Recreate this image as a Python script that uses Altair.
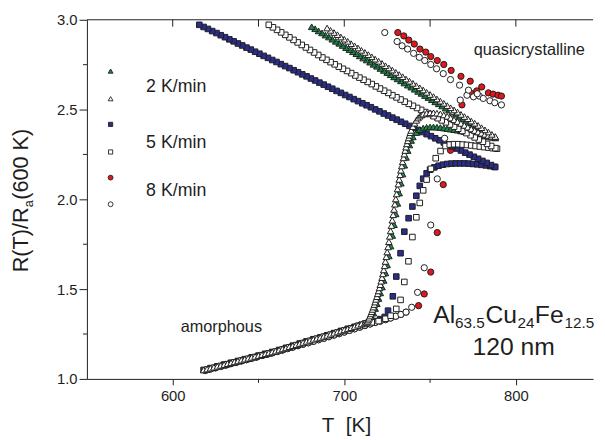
import altair as alt
import pandas as pd

FONT = "Liberation Sans"
INK = "#1e1e1e"
GREEN = "#1b8c47"
BLUE = "#2a2d8c"
RED = "#e3161b"

# ---------------- data (T in K, R(T)/Ra(600 K)) ----------------
# 2 K/min, open triangles
tri_open_amorph = [(618, 1.050), (620, 1.055), (622, 1.060), (624, 1.065), (626, 1.070), (628, 1.075),
                   (630, 1.080), (632, 1.085), (634, 1.090), (636, 1.095), (638, 1.100), (640, 1.105),
                   (642, 1.110), (644, 1.115), (646, 1.120), (648, 1.125), (650, 1.130), (652, 1.135),
                   (654, 1.140), (656, 1.145), (658, 1.150), (660, 1.155), (662, 1.161), (664, 1.167),
                   (666, 1.173), (668, 1.179), (670, 1.185), (672, 1.191), (674, 1.197), (676, 1.203),
                   (678, 1.209), (680, 1.215), (682, 1.221), (684, 1.226), (686, 1.231), (688, 1.237),
                   (690, 1.243), (692, 1.249), (694, 1.255), (696, 1.261), (698, 1.267), (700, 1.273),
                   (702, 1.279), (704, 1.285), (706, 1.292), (708, 1.299), (710, 1.306), (712, 1.312)]
tri_open_rise = [(713.0, 1.315), (713.5, 1.320), (714.0, 1.328), (714.5, 1.338), (715.0, 1.350), (715.5, 1.362),
                 (716.0, 1.374), (716.5, 1.387), (717.0, 1.400), (717.5, 1.414), (718.0, 1.428), (718.5, 1.443),
                 (719.0, 1.458), (719.5, 1.474), (720.0, 1.490), (720.5, 1.507), (721.0, 1.525), (721.5, 1.544),
                 (722.0, 1.564), (722.5, 1.585), (723.0, 1.607), (723.5, 1.630), (724.0, 1.654), (724.5, 1.680),
                 (725.0, 1.707), (725.5, 1.735), (726.0, 1.764), (726.5, 1.794), (727.0, 1.824), (727.5, 1.854),
                 (728.0, 1.884), (728.5, 1.914), (729.0, 1.944), (729.5, 1.973), (730.0, 2.002), (730.5, 2.030),
                 (731.0, 2.058), (731.5, 2.085), (732.0, 2.111), (732.5, 2.137), (733.0, 2.162), (733.5, 2.186),
                 (734.0, 2.209), (734.5, 2.231), (735.0, 2.252), (735.5, 2.272), (736.0, 2.291), (736.5, 2.309),
                 (737.0, 2.326), (737.5, 2.342), (738.0, 2.357), (738.5, 2.371), (739.0, 2.384), (740.0, 2.405),
                 (741.0, 2.424), (742.0, 2.440), (743.0, 2.453), (744.0, 2.463), (745.0, 2.470), (746.0, 2.475),
                 (748.0, 2.480), (750.0, 2.482), (752.0, 2.482), (754.0, 2.480), (756.0, 2.476), (758.0, 2.470),
                 (760.0, 2.462), (762.0, 2.453), (764.0, 2.443), (766.0, 2.433), (768.0, 2.423), (770.0, 2.412),
                 (772.0, 2.402), (774.0, 2.392), (776.0, 2.383), (778.0, 2.375), (780.0, 2.368), (782.0, 2.362),
                 (784.0, 2.356), (786.0, 2.351), (788.0, 2.347)]
tri_open_cool = [(788, 2.350), (786, 2.362), (784, 2.375), (782, 2.387), (780, 2.399), (778, 2.412),
                 (776, 2.424), (774, 2.436), (772, 2.449), (770, 2.461), (768, 2.473), (766, 2.486),
                 (764, 2.498), (762, 2.510), (760, 2.522), (758, 2.535), (756, 2.547), (754, 2.559),
                 (752, 2.572), (750, 2.584), (748, 2.596), (746, 2.609), (744, 2.621), (742, 2.633),
                 (740, 2.646), (738, 2.658), (736, 2.670), (734, 2.683), (732, 2.695), (730, 2.707),
                 (728, 2.720), (726, 2.732), (724, 2.744), (722, 2.757), (720, 2.769), (718, 2.781),
                 (716, 2.794), (714, 2.806), (712, 2.818), (710, 2.830), (708, 2.843), (706, 2.855),
                 (704, 2.867), (702, 2.880), (700, 2.892), (698, 2.904), (696, 2.917), (694, 2.929),
                 (692, 2.941), (690, 2.954)]

# 2 K/min, filled green triangles
tri_fill_amorph = [(619, 1.052), (621, 1.057), (623, 1.062), (625, 1.067), (627, 1.072), (629, 1.077),
                   (631, 1.082), (633, 1.087), (635, 1.092), (637, 1.097), (639, 1.102), (641, 1.107),
                   (643, 1.112), (645, 1.117), (647, 1.122), (649, 1.127), (651, 1.132), (653, 1.137),
                   (655, 1.142), (657, 1.147), (659, 1.152), (661, 1.158), (663, 1.164), (665, 1.170),
                   (667, 1.176), (669, 1.182), (671, 1.188), (673, 1.194), (675, 1.200), (677, 1.206),
                   (679, 1.212), (681, 1.218), (683, 1.224), (685, 1.230), (687, 1.236), (689, 1.242),
                   (691, 1.248), (693, 1.254), (695, 1.260), (697, 1.266), (699, 1.272), (701, 1.278),
                   (703, 1.284), (705, 1.290), (707, 1.297), (709, 1.304), (711, 1.311), (713, 1.318)]
tri_fill_rise = [(715, 1.325), (716, 1.345), (717, 1.367), (718, 1.392), (719, 1.419), (720, 1.448),
                 (721, 1.479), (722, 1.512), (723, 1.549), (724, 1.590), (725, 1.635), (726, 1.685),
                 (727, 1.740), (728, 1.799), (729, 1.859), (730, 1.919), (731, 1.978), (732, 2.035),
                 (733, 2.090), (734, 2.141), (735, 2.190), (736, 2.234), (737, 2.272), (738, 2.303),
                 (739, 2.328), (740, 2.348), (742, 2.372), (744, 2.388), (746, 2.397), (748, 2.401),
                 (750, 2.403), (752, 2.403), (754, 2.402), (756, 2.400), (758, 2.397), (760, 2.394),
                 (762, 2.391), (764, 2.388), (766, 2.385), (768, 2.381), (770, 2.378), (772, 2.374),
                 (774, 2.370), (776, 2.366), (778, 2.362), (780, 2.358), (782, 2.354), (784, 2.350),
                 (786, 2.346), (788, 2.342)]
tri_fill_cool = [(787, 2.346), (785, 2.357), (783, 2.369), (781, 2.381), (779, 2.392), (777, 2.404),
                 (775, 2.416), (773, 2.427), (771, 2.439), (769, 2.450), (767, 2.462), (765, 2.474),
                 (763, 2.485), (761, 2.497), (759, 2.508), (757, 2.520), (755, 2.532), (753, 2.543),
                 (751, 2.555), (749, 2.567), (747, 2.578), (745, 2.590), (743, 2.601), (741, 2.613),
                 (739, 2.625), (737, 2.636), (735, 2.648), (733, 2.660), (731, 2.671), (729, 2.682),
                 (727, 2.694), (725, 2.706), (723, 2.718), (721, 2.729), (719, 2.741), (717, 2.752),
                 (715, 2.764), (713, 2.776), (711, 2.787), (709, 2.799), (707, 2.811), (705, 2.822),
                 (703, 2.834), (701, 2.845), (699, 2.857), (697, 2.869), (695, 2.880), (693, 2.892),
                 (691, 2.904), (689, 2.915), (687, 2.927), (685, 2.938), (683, 2.950), (681, 2.961)]

# 5 K/min, filled blue squares
sq_fill_heat = [(618, 1.050), (622, 1.060), (626, 1.070), (630, 1.080), (634, 1.090), (638, 1.100),
                (642, 1.110), (646, 1.120), (650, 1.130), (654, 1.140), (658, 1.150), (662, 1.161),
                (666, 1.173), (670, 1.185), (674, 1.197), (678, 1.209), (682, 1.221), (686, 1.231),
                (690, 1.243), (694, 1.255), (698, 1.267), (702, 1.279), (706, 1.290), (710, 1.300),
                (714, 1.312), (718, 1.322), (721, 1.333), (723.6, 1.345), (725.5, 1.380), (728.3, 1.460),
                (730.3, 1.570), (732.8, 1.700), (735.0, 1.820), (737.5, 1.895), (739.7, 1.960),
                (742.0, 2.020), (744.0, 2.075), (746.0, 2.115), (748.0, 2.145), (750.0, 2.165),
                (752.5, 2.178), (755.0, 2.187), (757.5, 2.193), (760.0, 2.197), (762.5, 2.199),
                (765.0, 2.200), (767.5, 2.200), (770.0, 2.200), (772.5, 2.199), (775.0, 2.197),
                (777.5, 2.195), (780.0, 2.192), (782.5, 2.189), (785.0, 2.185), (787.5, 2.181)]
sq_fill_cool = [(788, 2.180), (785.5, 2.191), (783, 2.203), (780.5, 2.214), (778, 2.226), (775.5, 2.237),
                (773, 2.249), (770.5, 2.260), (768, 2.272), (765.5, 2.283), (763, 2.295), (760.5, 2.306),
                (758, 2.317), (755.5, 2.329), (753, 2.340), (750.5, 2.352), (748, 2.363), (745.5, 2.375),
                (743, 2.386), (740.5, 2.398), (738, 2.409), (735.5, 2.421), (733, 2.432), (730.5, 2.444),
                (728, 2.455), (725.5, 2.467), (723, 2.478), (720.5, 2.490), (718, 2.501), (715.5, 2.513),
                (713, 2.524), (710.5, 2.535), (708, 2.547), (705.5, 2.558), (703, 2.570), (700.5, 2.581),
                (698, 2.593), (695.5, 2.604), (693, 2.616), (690.5, 2.627), (688, 2.639), (685.5, 2.650),
                (683, 2.662), (680.5, 2.673), (678, 2.685), (675.5, 2.696), (673, 2.708), (670.5, 2.719),
                (668, 2.731), (665.5, 2.742), (663, 2.753), (660.5, 2.765), (658, 2.776), (655.5, 2.788),
                (653, 2.799), (650.5, 2.811), (648, 2.822), (645.5, 2.834), (643, 2.845), (640.5, 2.857),
                (638, 2.868), (635.5, 2.880), (633, 2.891), (630.5, 2.903), (628, 2.914), (625.5, 2.926),
                (623, 2.937), (620.5, 2.949), (618, 2.960), (615.5, 2.972)]

# 5 K/min, open squares
sq_open_heat = [(620, 1.052), (624, 1.062), (628, 1.072), (632, 1.082), (636, 1.092), (640, 1.102),
                (644, 1.112), (648, 1.122), (652, 1.132), (656, 1.142), (660, 1.152), (664, 1.164),
                (668, 1.176), (672, 1.188), (676, 1.200), (680, 1.212), (684, 1.224), (688, 1.235),
                (692, 1.246), (696, 1.258), (700, 1.270), (704, 1.282), (708, 1.295), (712, 1.306),
                (716, 1.315), (720, 1.322), (724, 1.335), (727, 1.352), (730.3, 1.390), (732.8, 1.440),
                (735.0, 1.540), (737.4, 1.655), (739.7, 1.790), (742.0, 1.900), (744.0, 1.980),
                (746.0, 2.050), (748.0, 2.110), (750.5, 2.170), (753.3, 2.229), (756.1, 2.269),
                (759.0, 2.297), (761.5, 2.305), (764.0, 2.307), (766.5, 2.307), (769.0, 2.305),
                (771.5, 2.303), (774.0, 2.300), (776.5, 2.297), (779.0, 2.294), (781.5, 2.291),
                (784.0, 2.288), (786.5, 2.285), (789.0, 2.282)]
sq_open_cool = [(788, 2.285), (785.6, 2.297), (783.2, 2.309), (780.8, 2.321), (778.4, 2.333), (776, 2.345),
                (773.6, 2.357), (771.2, 2.369), (768.8, 2.381), (766.4, 2.393), (764, 2.405), (761.6, 2.417),
                (759.2, 2.429), (756.8, 2.440), (754.4, 2.452), (752, 2.463), (749.6, 2.475), (747.2, 2.486),
                (744.8, 2.498), (742.4, 2.509), (740, 2.521), (737.6, 2.532), (735.2, 2.544), (732.8, 2.556),
                (730.4, 2.568), (728, 2.580), (725.6, 2.593), (723.2, 2.605), (720.8, 2.617), (718.4, 2.629),
                (716, 2.642), (713.6, 2.654), (711.2, 2.666), (708.8, 2.678), (706.4, 2.690), (704, 2.703),
                (701.6, 2.715), (699.2, 2.727), (696.8, 2.739), (694.4, 2.752), (692, 2.764), (689.6, 2.777),
                (687.2, 2.790), (684.8, 2.804), (682.4, 2.818), (680, 2.832), (677.6, 2.846), (675.2, 2.860),
                (672.8, 2.874), (670.4, 2.888), (668, 2.902), (665.6, 2.916), (663.2, 2.930), (660.8, 2.944),
                (658.4, 2.958), (656, 2.972)]

# 8 K/min, open circles
circ_open_heat = [(619, 1.047), (622, 1.055), (625, 1.062), (628, 1.070), (631, 1.077), (634, 1.085),
                  (637, 1.092), (640, 1.100), (643, 1.107), (646, 1.115), (649, 1.122), (652, 1.130),
                  (655, 1.137), (658, 1.145), (661, 1.153), (664, 1.161), (667, 1.169), (670, 1.177),
                  (673, 1.185), (676, 1.193), (679, 1.201), (682, 1.209), (685, 1.218), (688, 1.226),
                  (691, 1.235), (694, 1.244), (697, 1.252), (700, 1.261), (703, 1.270), (706, 1.279),
                  (709, 1.288), (712, 1.297), (715, 1.306), (718, 1.314), (721, 1.322), (724, 1.330),
                  (727, 1.339), (730, 1.349), (733, 1.359), (736, 1.372), (739.3, 1.399), (742.7, 1.482),
                  (746.6, 1.619), (750.4, 1.857), (754.2, 2.114), (758.5, 2.340), (763.0, 2.490),
                  (767.6, 2.553), (771.5, 2.580), (775.3, 2.571), (778.7, 2.575), (781.0, 2.562),
                  (784.9, 2.549), (787.7, 2.538), (791.6, 2.526)]
circ_open_cool = [(777.5, 2.588), (772.4, 2.608), (767.2, 2.636), (761.9, 2.667), (757.7, 2.700),
                  (753.8, 2.727), (750.4, 2.751), (746.9, 2.773), (743.7, 2.791), (740.4, 2.813),
                  (736.9, 2.837), (733.7, 2.855), (730.8, 2.879), (723.6, 2.929)]

# 8 K/min, filled red circles
circ_fill_heat = [(619, 1.047), (622, 1.055), (625, 1.062), (628, 1.070), (631, 1.077), (634, 1.085),
                  (637, 1.092), (640, 1.100), (643, 1.107), (646, 1.115), (649, 1.122), (652, 1.130),
                  (655, 1.137), (658, 1.145), (661, 1.153), (664, 1.161), (667, 1.169), (670, 1.177),
                  (673, 1.185), (676, 1.193), (679, 1.201), (682, 1.209), (685, 1.218), (688, 1.226),
                  (691, 1.235), (694, 1.244), (697, 1.252), (700, 1.261), (703, 1.270), (706, 1.279),
                  (709, 1.288), (712, 1.297), (715, 1.306), (718, 1.314), (721, 1.322), (724, 1.330),
                  (727, 1.339), (730, 1.349), (733, 1.359), (736, 1.372), (743.3, 1.408), (746.6, 1.473),
                  (750.4, 1.595), (754.2, 1.815), (757.7, 2.082), (761.9, 2.273), (768.6, 2.526),
                  (774.0, 2.590), (777.2, 2.604), (784.0, 2.593), (786.7, 2.586), (789.6, 2.580),
                  (791.6, 2.575)]
circ_fill_cool = [(780.1, 2.626), (773.4, 2.658), (768.0, 2.685), (762.3, 2.718), (758.0, 2.751),
                  (754.2, 2.773), (750.4, 2.795), (747.5, 2.820), (744.1, 2.837), (740.8, 2.865),
                  (737.6, 2.887), (734.7, 2.910), (731.2, 2.929)]

x_major = [600, 700, 800]
x_minor = [650, 750]
x_top = [600, 650, 700, 750, 800]
y_major = [1.0, 1.5, 2.0, 2.5, 3.0]
y_minor = [1.25, 1.75, 2.25, 2.75]

legend_rates = ["2 K/min", "5 K/min", "8 K/min"]

W, H = 513, 364


def frame(*segments):
    rows = [p for seg in segments for p in seg]
    return pd.DataFrame(rows, columns=["T", "R"])


X = alt.X("T:Q", scale=alt.Scale(domain=[550, 845], nice=False, zero=False),
          axis=alt.Axis(values=x_major, format="d", title=None, grid=False, tickSize=6, labelPadding=4,
                        labelFontSize=15, labelFont=FONT, labelColor=INK, domainColor=INK,
                        tickColor=INK, domainWidth=1, tickWidth=1, labelFontWeight="normal"))
Y = alt.Y("R:Q", scale=alt.Scale(domain=[1.0, 3.0], nice=False, zero=False),
          axis=alt.Axis(values=y_major, format=".1f", title=None, grid=False, tickSize=8, labelPadding=2,
                        labelFontSize=15, labelFont=FONT, labelColor=INK, domainColor=INK,
                        tickColor=INK, domainWidth=1, tickWidth=1))


def pts(data, shape, size, fill, stroke=INK, sw=1.0):
    return alt.Chart(data).mark_point(
        shape=shape, size=size, filled=True, fill=fill, stroke=stroke, strokeWidth=sw,
        opacity=1, fillOpacity=1, strokeOpacity=1
    ).encode(x=X, y=Y)


one = pd.DataFrame({"k": [0]})


def txt(s, x, y, size, align="left", angle=0, baseline="alphabetic"):
    kw = dict(font=FONT, fontSize=size, color=INK, align=align, baseline=baseline)
    if angle:
        kw["angle"] = angle
    return alt.Chart(one).mark_text(**kw).encode(
        x=alt.value(x), y=alt.value(y), text=alt.value(s))


def legend_marker(shape, size, fill, x, y):
    return alt.Chart(one).mark_point(
        shape=shape, size=size, filled=True, fill=fill, stroke=INK, strokeWidth=0.9,
        opacity=1, fillOpacity=1
    ).encode(x=alt.value(x), y=alt.value(y))


layers = [
    pts(frame(circ_fill_heat, circ_fill_cool), "circle", 40, RED),
    pts(frame(sq_fill_heat, sq_fill_cool), "square", 32, BLUE),
    pts(frame(tri_fill_amorph, tri_fill_rise, tri_fill_cool), "triangle-up", 44, GREEN),
    pts(frame(circ_open_heat, circ_open_cool), "circle", 40, "white"),
    pts(frame(sq_open_heat, sq_open_cool), "square", 32, "white"),
    pts(frame(tri_open_amorph, tri_open_rise, tri_open_cool), "triangle-up", 44, "white"),
]

# frame top line and minor / mirrored ticks
top_line = alt.Chart(one).mark_rule(color=INK, strokeWidth=1).encode(
    x=alt.value(0), x2=alt.value(W), y=alt.value(0))
top_ticks = alt.Chart(pd.DataFrame({"T": x_top})).mark_rule(color=INK, strokeWidth=1).encode(
    x=X, y=alt.value(0), y2=alt.value(7))
bottom_minor = alt.Chart(pd.DataFrame({"T": x_minor})).mark_rule(color=INK, strokeWidth=1).encode(
    x=X, y=alt.value(H), y2=alt.value(H + 4))
left_minor = alt.Chart(pd.DataFrame({"R": y_minor})).mark_rule(color=INK, strokeWidth=1).encode(
    y=Y, x=alt.value(-4), x2=alt.value(0))

# legend
legend = [
    legend_marker("triangle-up", 24, GREEN, 24, 52),
    legend_marker("triangle-up", 24, "white", 24, 80),
    legend_marker("square", 18, BLUE, 24, 106),
    legend_marker("square", 18, "white", 24, 134),
    legend_marker("circle", 24, RED, 24, 160),
    legend_marker("circle", 24, "white", 24, 187),
    txt(legend_rates[0], 60, 68, 18, baseline="middle"),
    txt(legend_rates[1], 60, 125, 18, baseline="middle"),
    txt(legend_rates[2], 60, 174, 18, baseline="middle"),
]

notes = [
    txt("quasicrystalline", 392, 36, 16.5),
    txt("amorphous", 95, 316, 16.5),
    txt("Al", 351, 307, 25),
    txt("63.5", 373, 312, 15.5),
    txt("Cu", 404, 307, 25),
    txt("24", 436.5, 312, 15.5),
    txt("Fe", 454, 307, 25),
    txt("12.5", 484, 312, 15.5),
    txt("120 nm", 432.5, 340, 25, align="center"),
    # axis titles
    txt("T\u00a0\u00a0[K]", 263, 418, 21, align="center"),
    txt("R(T)/R", -60, 256, 22, angle=270),
    txt("a", -55, 190, 13, angle=270),
    txt("(600 K)", -60, 182.5, 22, angle=270),
]

chart = alt.layer(*layers, top_line, top_ticks, bottom_minor, left_minor, *legend, *notes).properties(
    width=W, height=H,
    autosize=alt.AutoSizeParams(type="none"),
    padding={"left": 80, "top": 9, "right": 4, "bottom": 60},
    background="white",
).configure_view(stroke=None)

chart.save("out.html", embed_options={"renderer": "svg", "actions": False})
